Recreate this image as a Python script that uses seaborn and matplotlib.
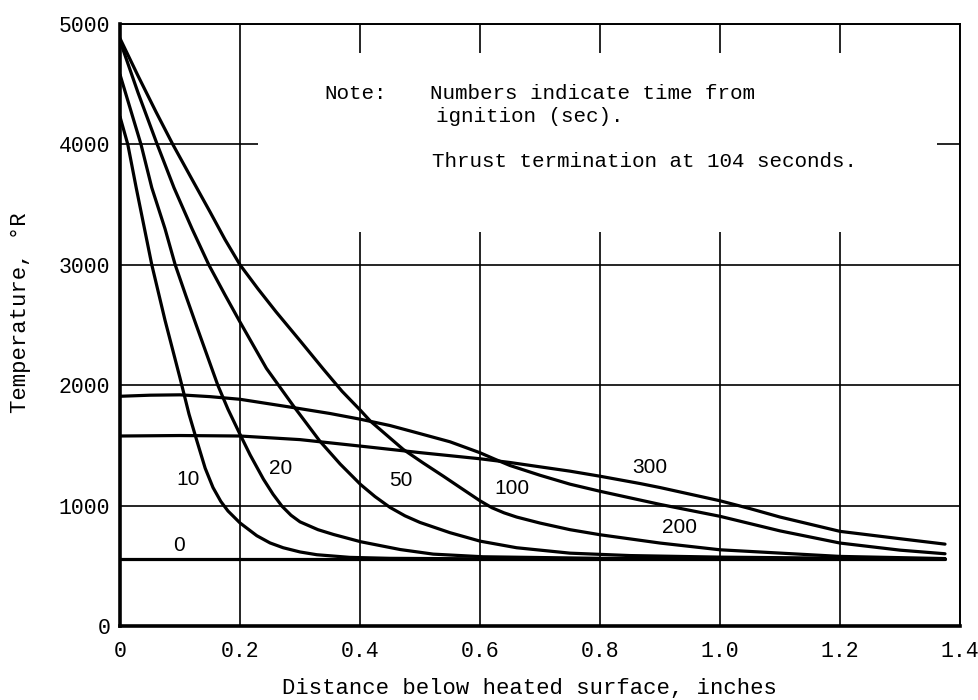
import matplotlib
matplotlib.use("Agg")
import matplotlib.pyplot as plt
from matplotlib.patches import Rectangle
import pandas as pd
import seaborn as sns

# Temperature profiles (deg R) vs. depth below the heated surface (inches),
# one curve per time from ignition (sec)
times = [0, 10, 20, 50, 100, 200, 300]

depth_t0 = [0.0, 0.4, 0.8, 1.2, 1.375]
temp_t0 = [555, 555, 555, 555, 555]

depth_t10 = [0.0, 0.013, 0.027, 0.053, 0.075, 0.1, 0.115, 0.128, 0.142, 0.155,
             0.168, 0.18, 0.2, 0.228, 0.25, 0.272, 0.3, 0.328, 0.383, 0.45,
             0.6, 1.0, 1.375]
temp_t10 = [4230, 4000, 3640, 3000, 2540, 2060, 1760, 1540, 1310, 1150,
            1035, 955, 856, 750, 690, 650, 615, 592, 570, 562,
            558, 556, 555]

depth_t20 = [0.0, 0.035, 0.053, 0.075, 0.092, 0.11, 0.127, 0.145, 0.163, 0.18,
             0.2, 0.217, 0.239, 0.255, 0.27, 0.285, 0.3, 0.33, 0.356, 0.401,
             0.467, 0.522, 0.605, 0.8, 1.0, 1.375]
temp_t20 = [4580, 4000, 3640, 3300, 3000, 2740, 2500, 2250, 2000, 1800,
            1592, 1420, 1220, 1095, 995, 920, 865, 800, 760, 700,
            635, 597, 575, 562, 558, 555]

depth_t50 = [0.0, 0.03, 0.062, 0.09, 0.12, 0.148, 0.175, 0.2, 0.244, 0.289,
             0.333, 0.367, 0.401, 0.425, 0.45, 0.475, 0.5, 0.55, 0.6, 0.661,
             0.75, 0.85, 1.0, 1.2, 1.375]
temp_t50 = [4860, 4430, 4000, 3640, 3300, 3000, 2750, 2525, 2140, 1828,
            1536, 1345, 1175, 1075, 985, 915, 860, 775, 705, 650,
            605, 585, 572, 563, 558]

depth_t100 = [0.0, 0.03, 0.06, 0.088, 0.12, 0.15, 0.175, 0.2, 0.23, 0.26,
              0.3, 0.339, 0.37, 0.401, 0.417, 0.472, 0.505, 0.539, 0.57, 0.6,
              0.62, 0.64, 0.661, 0.7, 0.75, 0.8, 0.9, 1.0, 1.2, 1.375]
temp_t100 = [4880, 4570, 4270, 4000, 3710, 3440, 3210, 3000, 2800, 2610,
             2370, 2133, 1950, 1790, 1703, 1467, 1355, 1244, 1140, 1040,
             982, 940, 905, 855, 800, 758, 689, 633, 578, 560]

depth_t200 = [0.0, 0.05, 0.1, 0.15, 0.2, 0.289, 0.35, 0.401, 0.45, 0.494,
              0.55, 0.6, 0.625, 0.65, 0.7, 0.75, 0.8, 0.9, 1.0, 1.1, 1.2,
              1.3, 1.375]
temp_t200 = [1908, 1917, 1920, 1905, 1883, 1814, 1765, 1717, 1665, 1606,
             1530, 1439, 1385, 1333, 1252, 1178, 1119, 1010, 911, 790, 689,
             630, 600]

depth_t300 = [0.0, 0.1, 0.2, 0.3, 0.401, 0.5, 0.6, 0.65, 0.75, 0.8, 0.867,
              0.9, 0.95, 1.0, 1.05, 1.1, 1.2, 1.3, 1.375]
temp_t300 = [1578, 1582, 1578, 1548, 1494, 1440, 1389, 1358, 1286, 1244, 1183,
             1150, 1095, 1040, 975, 905, 786, 725, 680]

profiles = {
    0: (depth_t0, temp_t0),
    10: (depth_t10, temp_t10),
    20: (depth_t20, temp_t20),
    50: (depth_t50, temp_t50),
    100: (depth_t100, temp_t100),
    200: (depth_t200, temp_t200),
    300: (depth_t300, temp_t300),
}

# Curve labels: (text, depth, temperature)
curve_labels = [("0", 0.099, 670), ("10", 0.114, 1217), ("20", 0.268, 1310),
                ("50", 0.468, 1205), ("100", 0.654, 1142),
                ("300", 0.883, 1317), ("200", 0.933, 814)]

x_ticks = [0, 0.2, 0.4, 0.6, 0.8, 1.0, 1.2, 1.4]
x_tick_labels = ["0", "0.2", "0.4", "0.6", "0.8", "1.0", "1.2", "1.4"]
y_ticks = [0, 1000, 2000, 3000, 4000, 5000]
y_tick_labels = ["0", "1000", "2000", "3000", "4000", "5000"]

rows = []
for t in times:
    d, temp = profiles[t]
    for xi, yi in zip(d, temp):
        rows.append({"time": t, "depth": xi, "temp": yi})
df = pd.DataFrame(rows)

sns.set_theme(style="whitegrid")
plt.rcParams["font.family"] = ["Liberation Mono", "DejaVu Sans Mono"]

fig = plt.figure(figsize=(9.79, 7.0), dpi=100)
ax = fig.add_axes([120 / 979, 74 / 700, 840 / 979, 602 / 700])
ax.set_facecolor("white")

sns.lineplot(data=df, x="depth", y="temp", hue="time",
             palette={t: "black" for t in times}, estimator=None,
             legend=False, linewidth=2.3, ax=ax, zorder=3)

ax.set_xlim(0, 1.4)
ax.set_ylim(0, 5000)
ax.set_xticks(x_ticks, labels=x_tick_labels)
ax.set_yticks(y_ticks, labels=y_tick_labels)
ax.tick_params(axis="both", length=0, labelsize=15.5, colors="black")
ax.tick_params(axis="x", pad=11)
ax.tick_params(axis="y", pad=7)

ax.grid(True, color="black", linewidth=1.2)
ax.set_axisbelow(True)

for side, lw in [("left", 2.6), ("bottom", 2.6), ("top", 1.4), ("right", 1.4)]:
    ax.spines[side].set_visible(True)
    ax.spines[side].set_color("black")
    ax.spines[side].set_linewidth(lw)

# Clear panel behind the note
ax.add_patch(Rectangle((0.23, 3270), 1.362 - 0.23, 4760 - 3270,
                       facecolor="white", edgecolor="none", zorder=1))

note_kw = dict(fontsize=15, color="black", va="center", ha="left", zorder=4)
ax.text(0.34, 4420, "Note:", **note_kw)
ax.text(0.517, 4420, "Numbers indicate time from", **note_kw)
ax.text(0.527, 4228, "ignition (sec).", **note_kw)
ax.text(0.52, 3858, "Thrust termination at 104 seconds.", **note_kw)

for txt, xv, yv in curve_labels:
    ax.text(xv, yv, txt, fontsize=15, family=["Liberation Sans", "DejaVu Sans"],
            ha="center", va="center", color="black", zorder=4)

ax.set_xlabel("Distance below heated surface, inches", fontsize=16,
              color="black", va="center")
ax.set_ylabel("Temperature, \u00b0R", fontsize=16, color="black")
ax.xaxis.set_label_coords(0.488, -0.103)
ax.yaxis.set_label_coords(-0.106, 0.52)

fig.savefig("out.png", dpi=100, facecolor="white")
